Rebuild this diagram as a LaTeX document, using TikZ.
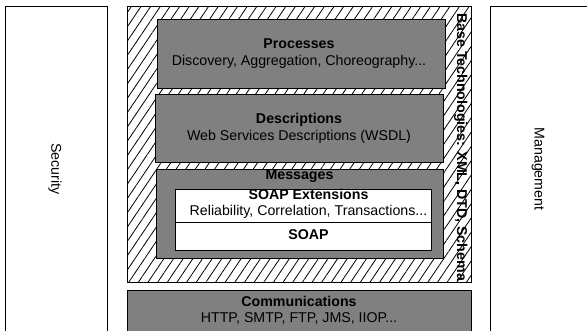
\documentclass[tikz,border=0pt]{standalone}
\usepackage{fontspec}
\setmainfont{Liberation Sans}
\usetikzlibrary{patterns.meta}
\begin{document}
\begin{tikzpicture}[x=1bp,y=-1bp,
  box/.style={draw=black,line width=0.8bp,inner sep=0pt,outer sep=0pt,anchor=north west},
  graybox/.style={box,fill=gray},
  whitebox/.style={box,fill=white},
  hatchbox/.style={box,fill=white,pattern={Lines[angle=56,distance=8bp,line width=0.8bp]}},
  txt/.style={inner sep=0pt,anchor=base,font=\fontsize{14.2bp}{16bp}\selectfont},
  btxt/.style={txt,font=\fontsize{14.2bp}{16bp}\selectfont\bfseries},
]
\useasboundingbox (0,0) rectangle (587,330);
\clip (0,0) rectangle (587,330);

% side boxes
\node[whitebox,minimum width=102bp,minimum height=330bp] (sec) at (5,6) {};
\node[whitebox,minimum width=110bp,minimum height=330bp] (mgmt) at (490,6) {};
\node[txt,rotate=-90,anchor=center] (tsec) at (55,169) {Security};
\node[txt,rotate=-90,anchor=center] (tmgmt) at (538,169) {Management};

% hatched base technologies box
\node[box,fill=white,minimum width=344bp,minimum height=276bp] (basebg) at (127,6) {};
\node[hatchbox,minimum width=344bp,minimum height=276bp] (base) at (127,6) {};
\node[btxt,rotate=-90,anchor=base west] (tbase) at (457,13) {Base Technologies: XML, DTD, Schema};

% processes
\node[graybox,minimum width=288bp,minimum height=69bp] (proc) at (157,19) {};
\node[btxt] (tproc) at (299,48) {Processes};
\node[txt] (tproc2) at (299,65) {Discovery, Aggregation, Choreography...};

% descriptions
\node[graybox,minimum width=288bp,minimum height=68bp] (desc) at (155,94) {};
\node[btxt] (tdesc) at (299,123) {Descriptions};
\node[txt] (tdesc2) at (299,140) {Web Services Descriptions (WSDL)};

% messages
\node[graybox,minimum width=287bp,minimum height=89bp] (msg) at (156,169) {};
\node[btxt] (tmsg) at (299.5,179) {Messages};
\node[whitebox,minimum width=256bp,minimum height=33bp] (soapext) at (175,189) {};
\node[whitebox,minimum width=256bp,minimum height=28bp] (soap) at (175,222) {};
\node[btxt] (tsoapext) at (308.5,199) {SOAP Extensions};
\node[txt] (tsoapext2) at (308.5,215) {Reliability, Correlation, Transactions...};
\node[btxt] (tsoap) at (308.5,239) {SOAP};

% communications
\node[graybox,minimum width=344bp,minimum height=50bp] (comm) at (127,290) {};
\node[btxt] (tcomm) at (299,306) {Communications};
\node[txt] (tcomm2) at (299,322) {HTTP, SMTP, FTP, JMS, IIOP...};
\end{tikzpicture}
\end{document}
